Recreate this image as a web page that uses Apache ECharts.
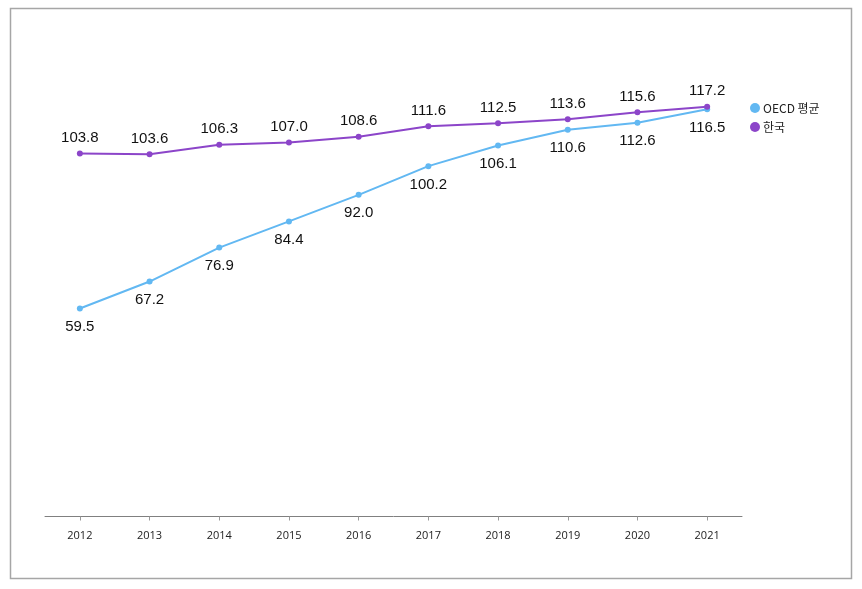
<!DOCTYPE html>
<html><head><meta charset="utf-8">
<script src="https://cdn.jsdelivr.net/npm/echarts@6/dist/echarts.min.js"></script>
<style>html,body{margin:0;padding:0;background:#fff}#c{width:862px;height:589px}</style>
</head><body><div id="c"></div>
<script>
const years = ['2012','2013','2014','2015','2016','2017','2018','2019','2020','2021'];
const oecd = [59.5, 67.2, 76.9, 84.4, 92.0, 100.2, 106.1, 110.6, 112.6, 116.5];
const korea = [103.8, 103.6, 106.3, 107.0, 108.6, 111.6, 112.5, 113.6, 115.6, 117.2];
const seriesNames = ['OECD 평균', '한국'];

const chart = echarts.init(document.getElementById('c'));
chart.setOption({
  animation: false,
  graphic: [{type:'rect', shape:{x:10.5,y:8.5,width:841,height:570}, style:{fill:'none', stroke:'#a6a6a6', lineWidth:1.5}, silent:true}],
  grid: {left:45, right:120, top:27, bottom:72.5},
  legend: {
    orient:'vertical', left:745, top:97, itemGap:7,
    icon:'circle', itemWidth:10, itemHeight:10,
    textStyle:{fontFamily:'Noto Sans CJK KR', fontSize:12, color:'#222', padding:[0,0,0,-2]},
    data: seriesNames
  },
  xAxis: {
    type:'category', data: years, boundaryGap:true,
    axisLine:{lineStyle:{color:'#808080', width:1}},
    axisTick:{show:true, alignWithLabel:true, interval:0, length:4, lineStyle:{color:'#999'}},
    axisLabel:{fontFamily:'Open Sans', fontSize:11, color:'#222', margin:14}
  },
  yAxis: {type:'value', min:0, max:140, show:false, splitLine:{show:false}},
  series: [
    {name:seriesNames[0], type:'line', data: oecd, symbol:'circle', symbolSize:6,
     itemStyle:{color:'#62B8F2'}, lineStyle:{color:'#62B8F2', width:2},
     label:{show:true, position:'bottom', distance:8, fontFamily:'Liberation Sans', fontSize:15, color:'#111', formatter:p=>p.value.toFixed(1)}},
    {name:seriesNames[1], type:'line', data: korea, symbol:'circle', symbolSize:6,
     itemStyle:{color:'#8C45C9'}, lineStyle:{color:'#8C45C9', width:2},
     label:{show:true, position:'top', distance:5, fontFamily:'Liberation Sans', fontSize:15, color:'#111', formatter:p=>p.value.toFixed(1)}}
  ]
});
</script></body></html>
